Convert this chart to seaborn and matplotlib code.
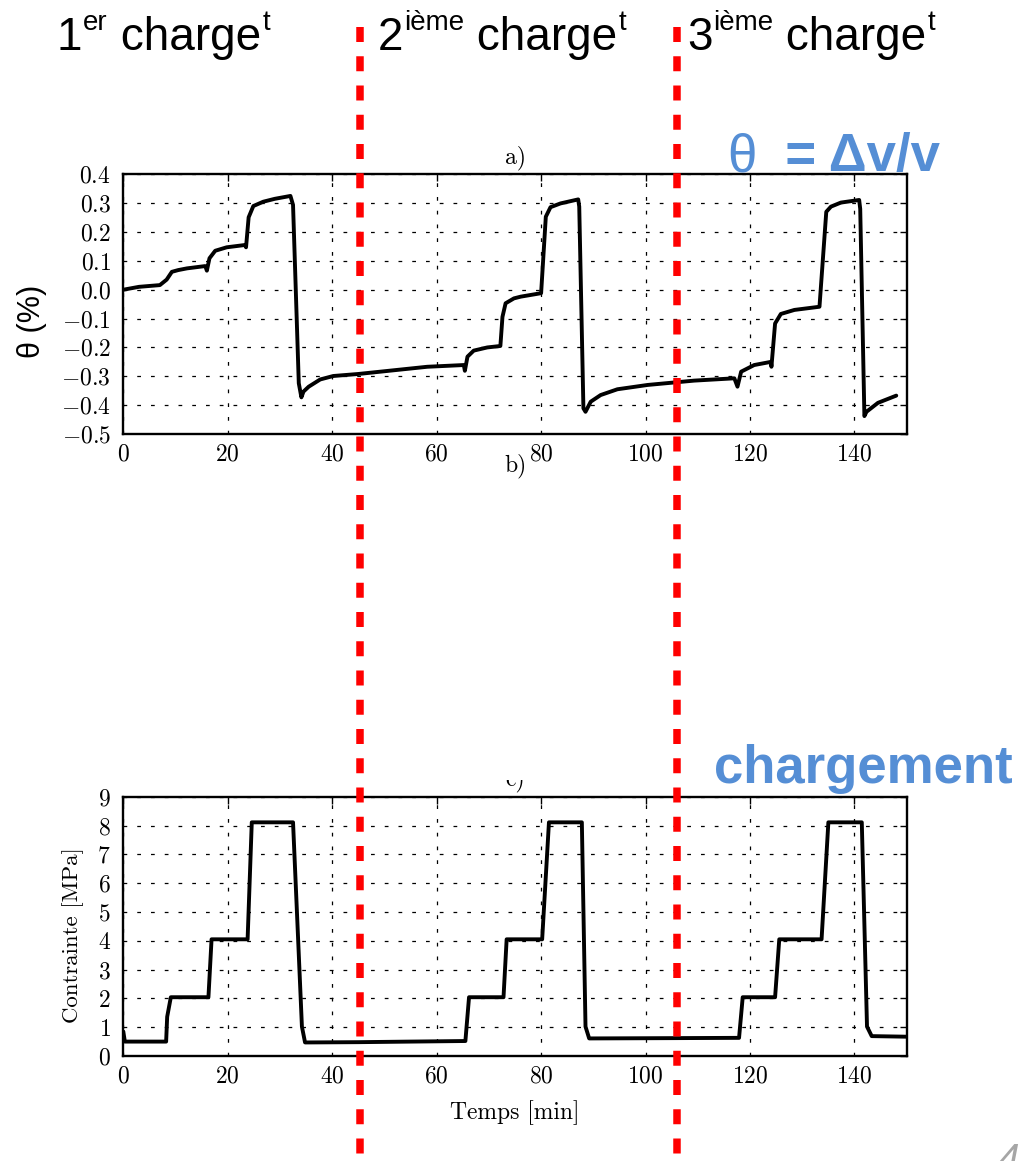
import numpy as np
import pandas as pd
import matplotlib
matplotlib.use("Agg")
import matplotlib.pyplot as plt
import seaborn as sns
from matplotlib import transforms
from matplotlib.lines import Line2D
from matplotlib.patches import Rectangle
from matplotlib.ticker import FuncFormatter, FixedLocator

# ---------------- data ----------------
theta_time = [0, 3, 7.0, 8.3, 9.3, 10.5, 12.2, 15.7, 16.0, 16.5,
              17.6, 19.8, 23.3, 23.5, 24.0, 24.9, 26.8, 29.0, 32.0, 32.5,
              33.6, 34.1, 34.5, 35.5, 37.7, 40.2, 45.0, 58.2, 65.2, 65.4,
              65.9, 67.1, 69.7, 72.2, 72.6, 73.2, 74.8, 76.1, 80.0, 80.9,
              81.8, 83.7, 87.1, 87.3, 88.1, 88.5, 89.5, 91.4, 94.6, 100.4,
              109.3, 117.0, 117.6, 118.3, 120.8, 124.0, 124.1, 124.8, 125.9, 128.5,
              133.3, 134.6, 135.5, 137.4, 140.9, 141.1, 141.9, 142.3, 144.5, 148.0]
theta_values = [0.000, 0.010, 0.016, 0.035, 0.062, 0.068, 0.074, 0.082, 0.066, 0.109,
                0.135, 0.147, 0.155, 0.147, 0.251, 0.290, 0.305, 0.315, 0.325, 0.294,
                -0.324, -0.373, -0.353, -0.336, -0.311, -0.299, -0.292, -0.267, -0.261, -0.281,
                -0.232, -0.211, -0.200, -0.195, -0.094, -0.047, -0.030, -0.024, -0.012, 0.253,
                0.286, 0.299, 0.313, 0.288, -0.411, -0.423, -0.388, -0.365, -0.345, -0.330,
                -0.315, -0.307, -0.336, -0.284, -0.261, -0.250, -0.267, -0.117, -0.084, -0.070,
                -0.059, 0.270, 0.288, 0.302, 0.311, 0.280, -0.438, -0.423, -0.392, -0.367]

stress_time = [0, 0.3, 8.2, 8.4, 9.1, 16.3, 16.9, 23.8, 24.6, 32.5,
               34.2, 34.8, 45, 55, 65.5, 66.2, 72.8, 73.4, 80.2, 81.5,
               87.8, 88.5, 89.2, 105, 117.9, 118.6, 124.8, 125.6, 133.7, 135.0,
               141.4, 142.4, 143.3, 150]
stress_values = [0.85, 0.50, 0.50, 1.36, 2.04, 2.04, 4.05, 4.05, 8.11, 8.11,
                 1.02, 0.47, 0.48, 0.50, 0.52, 2.04, 2.04, 4.05, 4.05, 8.11,
                 8.11, 1.02, 0.61, 0.62, 0.63, 2.04, 2.04, 4.05, 4.05, 8.11,
                 8.11, 1.02, 0.69, 0.67]

x_ticks = [0, 20, 40, 60, 80, 100, 120, 140]
theta_ticks = [-0.5, -0.4, -0.3, -0.2, -0.1, 0.0, 0.1, 0.2, 0.3, 0.4]
stress_ticks = [0, 1, 2, 3, 4, 5, 6, 7, 8, 9]
boundary_times = [45.3, 106.0]

headers = [("1", "er"), ("2", "ième"), ("3", "ième")]
header_word = " charge"
header_sup2 = "t"
panel_titles = ["a)", "b)", "c)"]
theta_label = "θ (%)"
stress_label = "Contrainte [MPa]"
time_label = "Temps [min]"
theta_sym = "θ"
theta_def = "  = Δv/v"
load_word = "chargement"
page_no = "4"

# ---------------- style ----------------
sns.set_style("white")
plt.rcParams["font.family"] = ["cmr10"]
plt.rcParams["mathtext.fontset"] = "cm"
plt.rcParams["axes.unicode_minus"] = True
plt.rcParams["text.color"] = "black"
plt.rcParams["axes.labelcolor"] = "black"
plt.rcParams["xtick.color"] = "black"
plt.rcParams["ytick.color"] = "black"

W, H = 1027, 1161
fig = plt.figure(figsize=(W / 100, H / 100), dpi=100)
fig.patch.set_facecolor("white")


def fr(l, t, r, b):
    return [l / W, 1 - b / H, (r - l) / W, (b - t) / H]


ax_a = fig.add_axes(fr(123.3, 174.3, 906.7, 434))
ax_b = fig.add_axes(fr(123.3, 483, 906.7, 760))
ax_c = fig.add_axes(fr(123.3, 796.7, 906.7, 1056))

sns.lineplot(x=theta_time, y=theta_values, ax=ax_a, color="black",
             linewidth=2.8, estimator=None, sort=False)
sns.lineplot(x=stress_time, y=stress_values, ax=ax_c, color="black",
             linewidth=2.8, estimator=None, sort=False)

for ax in (ax_a, ax_c):
    ax.set_xlim(0, 150)
    ax.xaxis.set_major_locator(FixedLocator(x_ticks))
    ax.xaxis.set_major_formatter(FuncFormatter(lambda v, p: f"${v:.0f}$"))
    ax.grid(True, color="black", linestyle=(0, (3, 8)), linewidth=0.9)
    ax.tick_params(direction="in", top=True, right=True, length=5, width=1,
                   labelsize=17, color="black", labelcolor="black")
    ax.tick_params(axis="y", pad=9)
    ax.tick_params(axis="x", pad=7)
    for s in ax.spines.values():
        s.set_linewidth(1.7)
        s.set_color("black")
    ax.set_axisbelow(True)

ax_a.set_ylim(-0.5, 0.4)
ax_a.yaxis.set_major_locator(FixedLocator(theta_ticks))
ax_a.yaxis.set_major_formatter(
    FuncFormatter(lambda v, p: "$%.1f$" % (0.0 if abs(v) < 1e-9 else v)))
ax_a.set_ylabel(theta_label, fontsize=22, family=["Liberation Sans", "DejaVu Sans"])
ax_a.yaxis.set_label_coords(-0.097, 0.433)
ax_a.set_xlabel("")
ax_a.set_title(panel_titles[0], fontsize=17, pad=8)

ax_c.set_ylim(0, 9)
ax_c.yaxis.set_major_locator(FixedLocator(stress_ticks))
ax_c.yaxis.set_major_formatter(FuncFormatter(lambda v, p: f"${v:.0f}$"))
ax_c.set_ylabel(stress_label, fontsize=16.5)
ax_c.yaxis.set_label_coords(-0.05, 0.467)
ax_c.set_xlabel(time_label, fontsize=17)
ax_c.xaxis.set_label_coords(0.5, -0.17)
ax_c.set_title(panel_titles[2], fontsize=17, pad=8)

ax_b.axis("off")
ax_b.set_title(panel_titles[1], fontsize=17, pad=8)

# ---------------- overlay (slide elements) ----------------
ov = fig.add_axes([0, 0, 1, 1], zorder=10)
ov.axis("off")
ov.set_xlim(0, 1)
ov.set_ylim(0, 1)

ov.add_patch(Rectangle((0, 1 - 780 / H), 1, (780 - 480) / H,
                       transform=ov.transAxes, facecolor="white",
                       edgecolor="none", zorder=1))

SANS = ["Liberation Sans", "DejaVu Sans"]


def header(x_px, num, sup):
    t1 = ov.text(x_px / W, 1 - 50 / H, num, fontsize=33, family=SANS,
                 va="baseline", ha="left", transform=ov.transAxes, zorder=5)
    t2 = ov.annotate(sup, xy=(1, 1), xycoords=t1, xytext=(0.5, 4),
                     textcoords="offset points", fontsize=20, family=SANS,
                     va="top", ha="left", zorder=5)
    t3 = ov.annotate(header_word, xy=(1, 0), xycoords=(t2, t1), fontsize=33,
                     family=SANS, va="bottom", ha="left", zorder=5)
    ov.annotate(header_sup2, xy=(1, 1), xycoords=(t3, t1), xytext=(1, 4),
                textcoords="offset points", fontsize=20, family=SANS,
                va="top", ha="left", zorder=5)


for xp, (num, sup) in zip([57, 378, 687], headers):
    header(xp, num, sup)

BLUE = "#558ed5"
th = ov.text(727 / W, 1 - 171 / H, theta_sym, fontsize=38,
             family=SANS, color=BLUE, va="baseline", ha="left", zorder=5)
ov.annotate(theta_def, xy=(1, 0), xycoords=th, fontsize=38, fontweight="bold",
            family=SANS, color=BLUE, va="bottom", ha="left", zorder=5)
ov.text(714 / W, 1 - 783 / H, load_word, fontsize=38, fontweight="bold",
        family=SANS, color=BLUE, va="baseline", ha="left", zorder=5)
ov.text(998 / W, 1 - 1143 / H, page_no, fontsize=28, style="italic",
        family=SANS, color="#a6a6a6", va="top", ha="left", zorder=5)

# red dashed separators spanning the whole slide
blend = transforms.blended_transform_factory(ax_a.transData, fig.transFigure)
for t in boundary_times:
    ln = Line2D([t, t], [1 - 27 / H, 0], transform=blend, color="red",
                linewidth=5.4, linestyle=(0, (2.0, 1.9)), zorder=20)
    fig.add_artist(ln)

fig.savefig("out.png", dpi=100, facecolor="white")
